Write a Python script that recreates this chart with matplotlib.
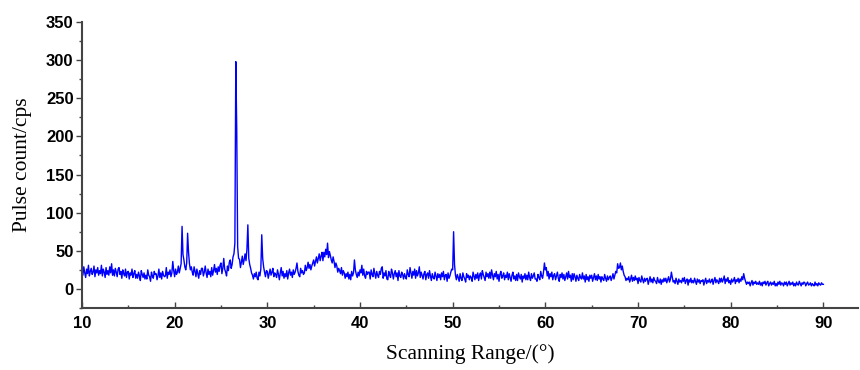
import numpy as np
import matplotlib
matplotlib.use("Agg")
import matplotlib.pyplot as plt
from matplotlib.ticker import MultipleLocator

# scan angle, 10..90 deg in 0.1 deg steps
two_theta = np.linspace(10, 90, 801)

# pulse count, one row per degree (d.0 .. d.9)
counts = [
    24, 18, 29, 21, 15, 26, 20, 31, 17, 23,   # 10
    27, 19, 22, 30, 16, 25, 21, 28, 18, 24,   # 11
    20, 31, 17, 26, 22, 15, 28, 19, 24, 18,   # 12
    29, 21, 33, 18, 25, 17, 27, 22, 16, 26,   # 13
    28, 19, 23, 14, 25, 20, 17, 26, 15, 22,   # 14
    23, 13, 21, 18, 26, 15, 20, 24, 14, 19,   # 15
    14, 22, 17, 11, 24, 19, 15, 21, 13, 18,   # 16
    13, 25, 18, 16, 10, 22, 17, 14, 23, 19,   # 17
    20, 12, 17, 26, 15, 21, 13, 23, 18, 16,   # 18
    17, 28, 14, 22, 19, 25, 16, 21, 36, 24,   # 19
    16, 26, 19, 22, 30, 21, 27, 33, 82, 45,   # 20
    38, 29, 25, 34, 73, 48, 33, 25, 29, 22,   # 21
    18, 29, 23, 16, 26, 20, 14, 24, 19, 27,   # 22
    27, 17, 22, 30, 21, 15, 26, 19, 23, 16,   # 23
    28, 18, 24, 32, 22, 27, 19, 29, 23, 31,   # 24
    34, 20, 27, 40, 26, 22, 17, 30, 24, 35,   # 25
    38, 27, 32, 42, 46, 60, 298, 210, 55, 40,  # 26
    39, 28, 35, 43, 32, 38, 46, 37, 52, 84,   # 27
    40, 32, 27, 21, 18, 13, 20, 16, 22, 14,   # 28
    12, 22, 17, 26, 71, 40, 29, 22, 16, 24,   # 29
    23, 14, 20, 26, 18, 22, 27, 16, 21, 19,   # 30
    15, 25, 19, 12, 21, 28, 17, 23, 14, 20,   # 31
    16, 24, 13, 21, 26, 18, 22, 15, 25, 19,   # 32
    22, 27, 34, 23, 18, 16, 27, 21, 24, 19,   # 33
    21, 31, 24, 28, 35, 27, 32, 25, 30, 34,   # 34
    38, 30, 36, 42, 34, 40, 46, 37, 43, 48,   # 35
    37, 48, 42, 52, 45, 60, 41, 49, 44, 38,   # 36
    34, 42, 36, 28, 34, 30, 22, 27, 24, 20,   # 37
    28, 18, 24, 21, 14, 20, 16, 22, 13, 19,   # 38
    12, 23, 17, 21, 38, 25, 19, 15, 22, 17,   # 39
    25, 21, 31, 18, 26, 17, 14, 23, 19, 22,   # 40
    22, 13, 25, 19, 16, 27, 20, 14, 23, 18,   # 41
    15, 23, 19, 27, 29, 14, 21, 17, 24, 13,   # 42
    12, 23, 18, 15, 26, 21, 13, 20, 24, 16,   # 43
    21, 11, 24, 17, 15, 22, 19, 13, 20, 16,   # 44
    13, 25, 19, 16, 28, 21, 14, 23, 18, 26,   # 45
    14, 24, 17, 21, 29, 15, 22, 18, 13, 20,   # 46
    23, 12, 19, 21, 14, 24, 17, 11, 20, 15,   # 47
    13, 22, 17, 11, 20, 15, 19, 12, 21, 16,   # 48
    23, 12, 18, 19, 10, 21, 14, 17, 22, 26,   # 49
    25, 75, 32, 18, 12, 19, 15, 10, 20, 14,   # 50
    11, 21, 16, 13, 9, 20, 15, 18, 12, 17,    # 51
    15, 10, 22, 17, 12, 19, 14, 21, 11, 18,   # 52
    21, 13, 24, 19, 15, 11, 22, 16, 20, 14,   # 53
    22, 14, 25, 18, 12, 20, 16, 23, 13, 19,   # 54
    10, 19, 23, 14, 17, 21, 12, 18, 15, 22,   # 55
    12, 20, 15, 10, 18, 22, 13, 17, 11, 19,   # 56
    11, 21, 16, 13, 19, 9, 17, 14, 20, 12,    # 57
    18, 12, 22, 15, 11, 20, 14, 17, 21, 13,   # 58
    13, 10, 19, 15, 12, 23, 17, 14, 22, 34,   # 59
    25, 28, 17, 23, 13, 20, 16, 22, 12, 18,   # 60
    20, 12, 17, 22, 14, 10, 19, 15, 21, 13,   # 61
    19, 11, 16, 21, 13, 23, 15, 18, 10, 20,   # 62
    12, 20, 16, 10, 18, 14, 11, 19, 15, 13,   # 63
    21, 13, 17, 9, 19, 12, 16, 10, 18, 14,    # 64
    18, 10, 15, 20, 12, 17, 11, 19, 13, 16,   # 65
    9, 16, 13, 11, 19, 14, 10, 17, 12, 15,    # 66
    17, 11, 15, 20, 13, 18, 23, 21, 33, 27,   # 67
    28, 34, 25, 30, 23, 18, 16, 11, 14, 12,   # 68
    16, 9, 13, 18, 10, 15, 11, 17, 12, 14,    # 69
    7, 15, 11, 9, 17, 12, 8, 14, 10, 13,      # 70
    14, 6, 11, 16, 9, 13, 8, 15, 11, 10,      # 71
    7, 15, 10, 8, 13, 6, 12, 9, 14, 10,       # 72
    14, 8, 12, 16, 9, 13, 22, 15, 9, 11,      # 73
    7, 14, 10, 6, 13, 9, 11, 8, 14, 10,       # 74
    15, 7, 11, 13, 5, 12, 9, 14, 8, 11,       # 75
    8, 14, 10, 6, 13, 9, 12, 7, 11, 10,       # 76
    12, 5, 10, 14, 7, 11, 9, 13, 8, 10,       # 77
    13, 6, 11, 15, 8, 12, 10, 7, 14, 9,       # 78
    14, 9, 12, 17, 7, 13, 10, 15, 8, 11,      # 79
    6, 13, 9, 11, 15, 7, 12, 10, 14, 8,       # 80
    13, 10, 16, 12, 20, 14, 10, 6, 9, 7,      # 81
    9, 4, 8, 11, 5, 9, 7, 10, 6, 8,           # 82
    6, 10, 5, 8, 4, 9, 7, 10, 5, 8,           # 83
    10, 4, 7, 9, 5, 8, 6, 10, 4, 7,           # 84
    4, 9, 6, 10, 5, 8, 7, 4, 9, 6,            # 85
    9, 4, 7, 10, 5, 8, 6, 9, 4, 7,            # 86
    4, 9, 6, 5, 10, 7, 4, 8, 6, 9,            # 87
    8, 4, 7, 9, 5, 6, 8, 4, 7, 5,             # 88
    4, 9, 5, 7, 4, 8, 6, 5, 8, 6,             # 89
    6,                                        # 90
]

x_label = "Scanning Range/(\u00b0)"
y_label = "Pulse count/cps"

fig = plt.figure(figsize=(8.6, 3.7), dpi=100)
ax = fig.add_axes([0.0953, 0.1676, 0.902, 0.773])
ax.plot(two_theta, counts, color="#0000ff", lw=1.0)

ax.set_xlim(10, 93.7)
ax.set_ylim(-25, 350)
ax.xaxis.set_minor_locator(MultipleLocator(5))
ax.yaxis.set_major_locator(MultipleLocator(50))
ax.yaxis.set_minor_locator(MultipleLocator(25))
ax.set_xticks(np.arange(10, 91, 10))

for side in ("top", "right"):
    ax.spines[side].set_visible(False)
for side in ("left", "bottom"):
    ax.spines[side].set_color("#444444")
    ax.spines[side].set_linewidth(1.5)

ax.tick_params(axis="x", which="both", direction="in", color="#444444", pad=6)
ax.tick_params(axis="y", which="both", direction="out", color="#444444", pad=2)
ax.tick_params(which="major", length=4, width=1)
ax.tick_params(which="minor", length=2, width=1)

for lab in ax.get_xticklabels() + ax.get_yticklabels():
    lab.set_fontfamily("Liberation Sans")
    lab.set_fontweight("bold")
    lab.set_fontsize(12)

ax.set_xlabel(x_label, fontfamily="Liberation Serif", fontsize=15.5, labelpad=9)
ax.set_ylabel(y_label, fontfamily="Liberation Serif", fontsize=15.5, labelpad=10)

fig.savefig("out.png", dpi=100)
